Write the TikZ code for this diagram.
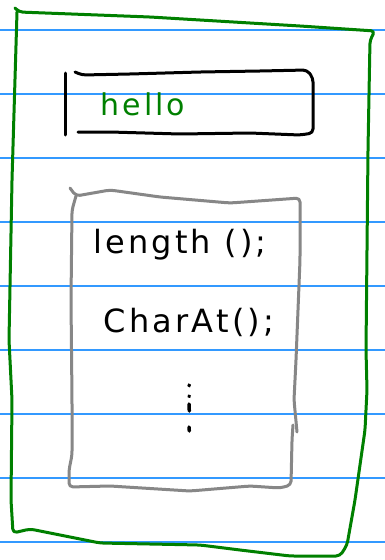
\documentclass[tikz,border=0pt]{standalone}
\usepackage{fontspec}
\usepackage{tikz}
\newfontfamily\handfont[LetterSpace=10]{DejaVu Sans}
\definecolor{ruleblue}{RGB}{51,153,255}
\definecolor{penGreen}{RGB}{0,128,0}
\definecolor{penGray}{RGB}{135,135,135}

\begin{document}
\begin{tikzpicture}[
x=1pt, y=-1pt,
ruled/.style={ruleblue, line width=1.2pt},
pen/.style={line width=3pt, line cap=round, line join=round, rounded corners=4pt},
outer/.style={pen, draw=penGreen},
strbox/.style={pen, draw=black},
methods/.style={pen, draw=penGray},
code/.style={font=\handfont\fontsize{32}{34}\selectfont, inner sep=0pt}
]
\useasboundingbox[fill=white] (0,0) rectangle (385,560);

% ruled paper
\foreach \ry in {30,94,158,222,286,350,414,478,542}
  \draw[ruled] (0,\ry) -- (385,\ry);

% outer object
\draw[outer] plot coordinates {
  (15,8) (19,12) (150,17) (300,26) (375,31) (370,40) (368,150) (366,350)
  (367,390) (365,430) (355,500) (347,545) (340,556) (290,556) (240,550)
  (200,545) (100,543) (30,529) (13,533) (11,500) (12,400) (9,340)
  (12,180) (17,12)};

% string field
\draw[strbox] (65,73) -- (65,135);
\draw[strbox] plot coordinates {
  (75,72) (82,75) (130,74) (200,72) (260,71) (307,70) (313,78)
  (313,133) (300,135) (250,133) (180,134) (110,132) (78,132)};
\node[code, text=penGreen, font=\handfont\fontsize{30}{32}\selectfont] (hello) at (143,104) {hello};

% method table
\draw[methods] plot coordinates {
  (70,188) (76,196) (110,190) (160,197) (230,203) (300,198) (300,260)
  (296,360) (294,400) (297,432)};
\draw[methods] plot coordinates {
  (293,425) (292,440) (291,485) (280,488) (250,486) (190,491) (110,486)
  (69,487) (69,470) (72,455) (72,400) (71,300) (72,210) (76,196)};
\node[code] (len) at (180,245) {length ();};
\node[code] (charat) at (189,322) {CharAt();};

% more methods
\foreach \dy/\dl in {385/0.8, 396/0.5, 404/7, 427/4}
  \draw[pen, draw=black, line width=3.5pt] (189,\dy) -- ++(0.3,\dl);
\end{tikzpicture}
\end{document}
